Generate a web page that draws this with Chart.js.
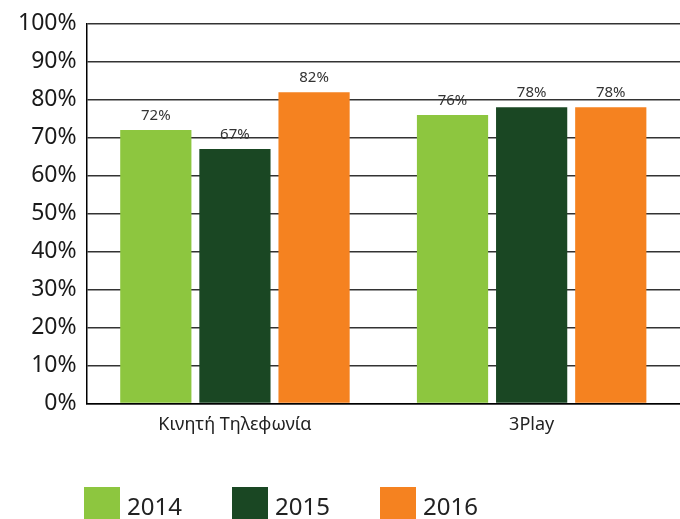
<!DOCTYPE html>
<html lang="el">
<head>
<meta charset="UTF-8">
<title>Chart</title>
<style>
    html, body { margin: 0; padding: 0; background: #fff; }
    #wrap { width: 680px; height: 519px; }
</style>
</head>
<body>
<div id="wrap"><canvas id="chart" width="680" height="519"></canvas></div>
<script src="https://cdn.jsdelivr.net/npm/chart.js"></script>
<script>
const categories = ['Κινητή Τηλεφωνία', '3Play'];
const years = ['2014', '2015', '2016'];
const values2014 = [72, 76];
const values2015 = [67, 78];
const values2016 = [82, 78];
const yTicks = [0, 10, 20, 30, 40, 50, 60, 70, 80, 90, 100];

const colors = ['#8DC63F', '#1A4723', '#F58220'];
const FONT = '"Noto Sans", "Open Sans", sans-serif';

// value labels above each bar
const valueLabels = {
    id: 'valueLabels',
    afterDatasetsDraw(chart) {
        const ctx = chart.ctx;
        ctx.save();
        ctx.font = '15px ' + FONT;
        ctx.fillStyle = '#333';
        ctx.textAlign = 'center';
        ctx.textBaseline = 'bottom';
        chart.data.datasets.forEach((ds, i) => {
            chart.getDatasetMeta(i).data.forEach((bar, j) => {
                ctx.fillText(ds.data[j] + '%', bar.x, bar.y - 7);
            });
        });
        ctx.restore();
    }
};

// legend drawn at the bottom left, like the original
const bottomLegend = {
    id: 'bottomLegend',
    afterDraw(chart) {
        const ctx = chart.ctx;
        ctx.save();
        ctx.font = '24px ' + FONT;
        ctx.textBaseline = 'middle';
        ctx.textAlign = 'left';
        chart.data.datasets.forEach((ds, i) => {
            const x = 84 + i * 148;
            const y = 487;
            ctx.fillStyle = ds.backgroundColor;
            ctx.fillRect(x, y, 36, 32);
            ctx.fillStyle = '#222';
            ctx.fillText(ds.label, x + 43, y + 21);
        });
        ctx.restore();
    }
};

new Chart(document.getElementById('chart'), {
    type: 'bar',
    data: {
        labels: categories,
        datasets: [
            { label: years[0], data: values2014, backgroundColor: colors[0] },
            { label: years[1], data: values2015, backgroundColor: colors[1] },
            { label: years[2], data: values2016, backgroundColor: colors[2] }
        ]
    },
    options: {
        responsive: false,
        animation: false,
        layout: { padding: { top: 4, right: 0, bottom: 72, left: 8 } },
        datasets: { bar: { categoryPercentage: 0.8, barPercentage: 0.9 } },
        plugins: {
            legend: { display: false },
            tooltip: { enabled: false }
        },
        scales: {
            x: {
                grid: { display: false, drawTicks: false },
                border: { color: '#000', width: 1.5 },
                ticks: { color: '#222', font: { family: FONT, size: 18 }, padding: 11 }
            },
            y: {
                min: 0,
                max: 100,
                afterBuildTicks(axis) { axis.ticks = yTicks.map(v => ({ value: v })); },
                grid: { color: '#333', lineWidth: 1.5, drawTicks: false },
                border: { color: '#000', width: 1.5 },
                ticks: {
                    color: '#1a1a1a',
                    font: { family: FONT, size: 23 },
                    padding: 10,
                    callback: v => v + '%'
                }
            }
        }
    },
    plugins: [valueLabels, bottomLegend]
});
</script>
</body>
</html>
